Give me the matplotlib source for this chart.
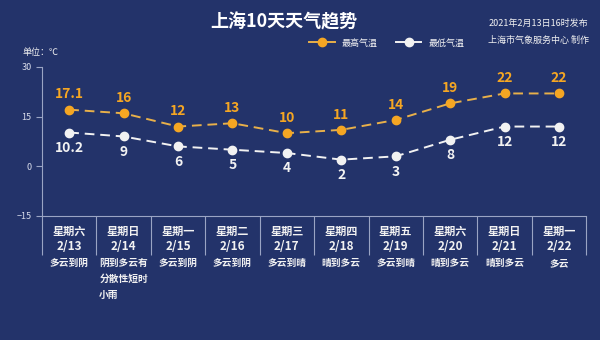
import matplotlib.pyplot as plt
from matplotlib.transforms import blended_transform_factory

plt.rcParams['font.family'] = ['Noto Sans CJK SC', 'DejaVu Sans']

weekdays = ['星期六', '星期日', '星期一', '星期二', '星期三', '星期四', '星期五', '星期六', '星期日', '星期一']
dates = ['2/13', '2/14', '2/15', '2/16', '2/17', '2/18', '2/19', '2/20', '2/21', '2/22']
weather = ['多云到阴', '阴到多云有\n分散性短时\n小雨', '多云到阴', '多云到阴', '多云到晴',
           '晴到多云', '多云到晴', '晴到多云', '晴到多云', '多云']
high = [17.1, 16, 12, 13, 10, 11, 14, 19, 22, 22]
low = [10.2, 9, 6, 5, 4, 2, 3, 8, 12, 12]
high_labels = ['17.1', '16', '12', '13', '10', '11', '14', '19', '22', '22']
low_labels = ['10.2', '9', '6', '5', '4', '2', '3', '8', '12', '12']
yticks = [-15, 0, 15, 30]

bg = '#23336a'
orange = '#f5a623'
white = '#f2f2f2'
axis_col = '#9aa4c4'

fig = plt.figure(figsize=(6, 3.4), dpi=100, facecolor=bg)
ax = fig.add_axes([0.07, 0.365, 0.907, 0.438])
ax.set_facecolor(bg)

x = list(range(len(dates)))
ax.plot(x, high, color='#e8b04a', lw=1.4, ls=(0, (5, 3)), marker='o', ms=6,
        mfc=orange, mec=orange, label='最高气温', zorder=3)
ax.plot(x, low, color=white, lw=1.4, ls=(0, (5, 3)), marker='o', ms=6,
        mfc=white, mec=white, label='最低气温', zorder=3)

for i in x:
    ax.annotate(high_labels[i], (i, high[i]), xytext=(0, 6), textcoords='offset points',
                ha='center', va='bottom', color=orange, fontsize=10, fontweight='bold')
    ax.annotate(low_labels[i], (i, low[i]), xytext=(0, -6), textcoords='offset points',
                ha='center', va='top', color=white, fontsize=10, fontweight='bold')

ax.set_xlim(-0.5, len(dates) - 0.5)
ax.set_ylim(-15, 30)
ax.set_yticks(yticks)
ax.tick_params(axis='y', colors=axis_col, labelsize=6.5, length=4, width=0.8, labelcolor='#d8dcea')
ax.set_xticks([i - 0.5 for i in range(len(dates) + 1)])
ax.set_xticklabels([])
ax.tick_params(axis='x', colors=axis_col, length=28, width=0.8)

for s in ['top', 'right']:
    ax.spines[s].set_visible(False)
for s in ['left', 'bottom']:
    ax.spines[s].set_color(axis_col)
    ax.spines[s].set_linewidth(0.8)

tr = blended_transform_factory(ax.transData, fig.transFigure)
for i in x:
    ax.text(i, 1 - 231 / 340, weekdays[i], transform=tr, ha='center', va='center',
            color=white, fontsize=8, fontweight='bold')
    ax.text(i, 1 - 247 / 340, dates[i], transform=tr, ha='center', va='center',
            color=white, fontsize=8.5, fontweight='bold')
    ax.text(i, 1 - 258 / 340, weather[i], transform=tr, ha='center', va='top',
            color=white, fontsize=7, fontweight='bold', linespacing=1.75,
            multialignment='left')

fig.text(0.473, 1 - 22 / 340, '上海10天天气趋势', ha='center', va='center',
         color='white', fontsize=13, fontweight='bold')
fig.text(0.981, 1 - 23 / 340, '2021年2月13日16时发布', ha='right', va='center',
         color=white, fontsize=6.5)
fig.text(0.981, 1 - 40 / 340, '上海市气象服务中心 制作', ha='right', va='center',
         color=white, fontsize=6.5)
fig.text(0.037, 1 - 52 / 340, '单位：℃', ha='left', va='center', color=white, fontsize=6.5)

leg = fig.legend(loc='center', bbox_to_anchor=(0.645, 1 - 43 / 340), ncol=2, frameon=False,
                 fontsize=6.5, handlelength=2.8, columnspacing=2.0, handletextpad=0.8)
for t in leg.get_texts():
    t.set_color(white)
for h in leg.legend_handles:
    h.set_linestyle('-')

fig.savefig('out.png', dpi=100, facecolor=bg)
